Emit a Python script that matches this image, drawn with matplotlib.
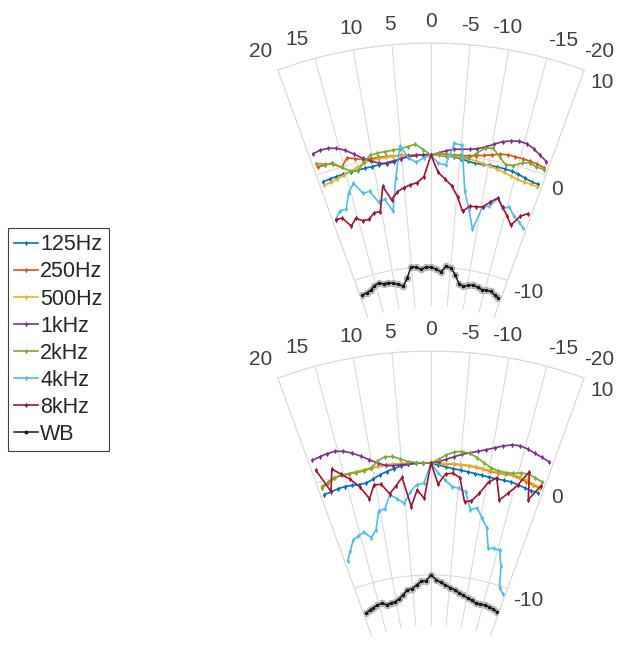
"""Two fan-shaped polar panels of normalised directivity per band."""

import matplotlib
matplotlib.use("Agg")
import matplotlib.pyplot as plt
import numpy as np

plt.rcParams["font.family"] = ["Liberation Sans", "DejaVu Sans"]

# measurement azimuths in degrees, listed left (+) to right (-)
ANGLES = np.linspace(19.3, -19.3, 31)

SERIES = ["125Hz", "250Hz", "500Hz", "1kHz", "2kHz", "4kHz", "8kHz", "WB"]
COLORS = ["#0072BD", "#D95319", "#EDB120", "#7E2F8E",
          "#77AC30", "#4DBEEE", "#A2142F", "#1a1a1a"]

SPOKES = [20, 15, 10, 5, 0, -5, -10, -15, -20]
RINGS = [-10, 0, 10]

# upper panel (dB)
upper_125 = [-0.76, -0.72, -0.68, -0.65, -0.62, -0.61, -0.59, -0.56, -0.51, -0.43, -0.32, -0.20, -0.08, -0.01, 0.03,
             0.0,
             -0.03, -0.06, -0.10, -0.20, -0.38, -0.48, -0.48, -0.46, -0.47, -0.49, -0.54, -0.66, -0.83, -0.97, -1.00]
upper_250 = [0.66, 0.60, 0.56, -0.03, 0.68, 0.43, 0.20, 0.15, 0.15, 0.14, 0.11, 0.08, 0.06, 0.05, 0.03,
             0.0,
             0.06, 0.03, 0.04, 0.06, 0.13, 0.22, 0.33, 0.50, 0.70, 0.79, 0.78, 0.77, 0.75, 0.69, 0.57]
upper_500 = [-1.07, -1.03, -0.90, -0.75, -0.58, -0.34, -0.14, -0.02, 0.04, 0.06, 0.06, 0.05, 0.04, 0.03, 0.03,
             0.0,
             0.03, 0.00, -0.03, -0.08, -0.15, -0.25, -0.39, -0.52, -0.67, -0.81, -0.97, -1.12, -1.20, -1.20, -1.23]
upper_1k = [1.90, 2.00, 1.95, 1.75, 1.38, 0.85, 0.32, -0.05, -0.37, -0.50, -0.43, -0.20, -0.05, 0.00, 0.05,
            0.0,
            0.20, 0.41, 0.57, 0.65, 0.70, 0.84, 1.10, 1.47, 1.83, 2.06, 2.20, 2.17, 1.90, 1.52, 1.17]
upper_2k = [0.98, 0.69, 0.45, 0.00, -0.55, -0.70, -0.05, 0.45, 0.55, 0.58, 0.62, 0.68, 0.82, 1.00, 0.48,
            0.0,
            0.15, 0.12, 0.07, 0.12, -0.18, 0.45, 1.00, 1.10, 0.48, -0.12, -0.03, 0.37, 0.60, 0.44, 0.41]
upper_4k = [-4.30, -3.70, -3.73, -2.36, -1.67, -2.73, -2.69, -3.77, -3.64, -4.80, -1.90, 0.93, -0.20, -0.62, -0.25,
            0.0,
            -0.73, -0.85, 1.12, 0.98, -3.07, -4.70, -6.35, -4.20, -4.07, -3.20, -3.95, -3.70, -4.34, -4.70, -5.14]
upper_8k = [-4.33, -4.38, -5.32, -4.74, -5.10, -5.13, -4.65, -4.65, -2.46, -3.75, -3.13, -2.81, -2.60, -2.44, -1.93,
            0.0,
            -1.54, -2.11, -2.68, -3.61, -4.88, -4.34, -4.30, -4.23, -3.66, -3.16, -3.87, -4.50, -5.23, -4.20, -3.75]
upper_wb = [-11.47, -11.40, -11.30, -11.00, -10.85, -11.03, -11.00, -11.15, -11.30, -11.55, -10.90, -9.95, -9.95,
            -10.20, -10.00, -10.00, -10.20, -10.40, -9.90, -10.00, -10.60, -11.35, -11.50, -11.35, -11.22, -11.35,
            -11.45, -11.40, -11.40, -11.60, -11.78]

# lower panel (dB)
lower_125 = [-1.20, -1.16, -1.09, -1.06, -1.12, -1.21, -1.20, -0.98, -0.71, -0.50, -0.32, -0.15, -0.05, 0.00, 0.00,
             0.0,
             -0.19, -0.31, -0.44, -0.52, -0.61, -0.68, -0.75, -0.80, -0.82, -0.81, -0.80, -0.88, -0.99, -1.06, -1.04]
lower_250 = [-0.47, -0.28, -0.06, 0.00, -0.06, -0.05, -0.02, 0.02, 0.07, 0.09, 0.09, 0.07, 0.05, 0.03, 0.03,
             0.0,
             -0.03, -0.06, -0.05, -0.04, -0.06, -0.11, -0.19, -0.27, -0.30, -0.25, -0.19, -0.29, -0.42, -0.53, -0.57]
lower_500 = [-0.60, -0.35, -0.10, -0.02, -0.05, -0.03, 0.00, 0.03, 0.06, 0.08, 0.08, 0.06, 0.04, 0.03, 0.02,
             0.0,
             0.00, -0.02, -0.03, -0.03, -0.05, -0.09, -0.15, -0.22, -0.24, -0.19, -0.13, -0.18, -0.30, -0.44, -0.52]
lower_1k = [2.04, 2.13, 2.20, 2.20, 2.02, 1.68, 1.25, 0.78, 0.37, 0.05, -0.05, -0.05, -0.03, 0.00, 0.00,
            0.0,
            0.13, 0.36, 0.62, 0.90, 1.10, 1.33, 1.58, 1.87, 2.18, 2.43, 2.53, 2.42, 2.23, 2.07, 1.90]
lower_2k = [-0.54, -0.30, -0.05, 0.00, -0.05, -0.12, -0.10, 0.00, 0.55, 0.83, 0.78, 0.48, 0.20, 0.07, 0.03,
            0.0,
            0.35, 0.75, 1.07, 1.15, 1.06, 0.75, 0.38, 0.05, -0.10, -0.12, -0.02, 0.21, 0.28, 0.15, 0.00]
lower_4k = [-7.50, -6.70, -5.86, -5.64, -5.42, -6.06, -5.51, -3.85, -3.76, -2.60, -3.00, -3.50, -2.50, -1.90, -1.80,
            0.0,
            -0.92, -1.49, -2.04, -2.14, -2.38, -3.92, -3.68, -4.50, -5.27, -7.05, -6.92, -6.97, -8.32, -10.19, -10.60]
lower_8k = [1.10, -1.12, 0.75, 0.08, -0.58, -1.40, -2.63, -1.50, -1.55, -2.49, -1.90, -1.17, -3.83, -2.38, -3.15,
            0.0,
            -1.87, -0.95, -0.84, -1.20, -3.29, -3.14, -2.36, -1.24, -0.74, -2.61, -1.86, -0.95, 0.50, -1.90, -0.40]
lower_wb = [-12.45, -12.30, -12.15, -12.05, -11.98, -12.20, -12.15, -12.09, -11.90, -11.60, -11.20, -11.15, -10.85,
            -10.55, -10.50, -10.00, -10.40, -10.65, -10.85, -11.05, -11.20, -11.42, -11.60, -11.75, -11.90, -12.04,
            -12.05, -12.02, -12.08, -12.15, -12.28]

UPPER = [upper_125, upper_250, upper_500, upper_1k, upper_2k, upper_4k, upper_8k, upper_wb]
LOWER = [lower_125, lower_250, lower_500, lower_1k, lower_2k, lower_4k, lower_8k, lower_wb]

# label placement (theta in degrees, r in dB)
SPOKE_LABEL_POS = [(21.2, 12.1), (16.5, 12.0), (9.8, 11.95), (5.0, 11.8), (0.0, 11.9),
                   (-4.8, 11.7), (-9.3, 11.9), (-16.3, 11.9), (-20.9, 12.0)]
RING_LABEL_POS = [(-26.1, -10.3), (-22.6, -0.8), (-22.7, 9.5)]

W, H = 619, 646
CX = 431          # x of the 0 deg spoke, px
GRID = "#dadada"
TEXT = "#404040"

fig = plt.figure(figsize=(W / 100, H / 100), dpi=100)


def draw_fan(panel, r_low):
    ax = fig.add_axes([0.3, 0.1, 0.5, 0.5], projection="polar")
    ax.set_theta_zero_location("N")
    ax.set_thetamin(-20)
    ax.set_thetamax(20)
    ax.set_rorigin(-30)
    ax.set_ylim(r_low, 10)
    ax.set_xticks(np.deg2rad(SPOKES))
    ax.set_xticklabels([])
    ax.set_yticks(RINGS)
    ax.set_yticklabels([])
    ax.grid(True, color=GRID, lw=0.8)
    for name, sp in ax.spines.items():
        if name == "inner":
            sp.set_edgecolor("none")
        else:
            sp.set_color(GRID)
            sp.set_linewidth(0.8)

    theta = np.deg2rad(ANGLES)
    lines = []
    for name, color, vals in zip(SERIES, COLORS, panel):
        if name == "WB":
            # pale rings under the trace, then the black trace with small dots
            ax.plot(theta, vals, ls="none", marker="o", ms=4.6, mfc="#ececec",
                    mec="#a8a8a8", mew=0.7, zorder=4)
            ln, = ax.plot(theta, vals, color=color, lw=1.1, marker="o", ms=1.8,
                          label=name, zorder=5)
        else:
            ln, = ax.plot(theta, vals, color=color, lw=1.2, marker="d", ms=2.8,
                          mew=0, label=name, zorder=3)
        lines.append(ln)

    for lab, (a, r) in zip(SPOKES, SPOKE_LABEL_POS):
        ax.text(np.deg2rad(a), r, str(lab), ha="center", va="center",
                fontsize=15, color=TEXT)
    for lab, (a, r) in zip(RINGS, RING_LABEL_POS):
        ax.text(np.deg2rad(a), r, str(lab), ha="center", va="center",
                fontsize=15, color=TEXT)
    return ax, lines


def place(ax, y_top, y_bot):
    """Scale/shift the axes so r=10 and r=-10 on the 0 deg spoke land on y_top / y_bot (image px)."""
    to_ax = ax.transData + ax.transAxes.inverted()
    (ux, ut), (_, ub) = to_ax.transform([(0, 10), (0, -10)])
    size = (y_bot - y_top) / (ut - ub)
    x0 = CX - ux * size
    y0 = (H - y_top) - ut * size
    ax.set_position([x0 / W, y0 / H, size / W, size / H])


ax_top, handles = draw_fan(UPPER, -13.5)
ax_bot, _ = draw_fan(LOWER, -14.5)
fig.canvas.draw()
place(ax_top, 43, 267)
place(ax_bot, 351, 575)

leg = fig.legend(handles, SERIES, loc="upper left",
                 bbox_to_anchor=(8 / W, 1 - 228 / H), borderaxespad=0,
                 fontsize=15.5, handlelength=1.1, handletextpad=0.1,
                 labelspacing=0.28, borderpad=0.3, fancybox=False,
                 framealpha=1, edgecolor="#404040")
leg.get_frame().set_linewidth(0.8)
for t in leg.get_texts():
    t.set_color("#262626")

fig.savefig("out.png", dpi=100)
